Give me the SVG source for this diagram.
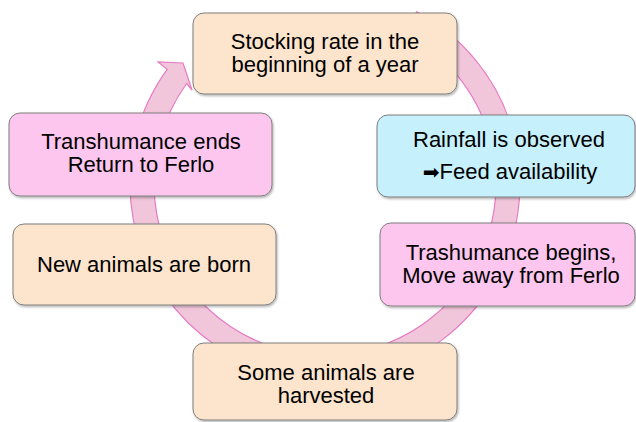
<svg xmlns="http://www.w3.org/2000/svg" width="636" height="422" viewBox="0 0 636 422">
<defs>
<filter id="sh" x="-5%" y="-5%" width="110%" height="115%">
<feDropShadow dx="1" dy="1.5" stdDeviation="1" flood-color="#000" flood-opacity="0.3"/>
</filter>
</defs>
<style>
.box{stroke:#7f7f7f;stroke-width:1;filter:url(#sh)}
.peach{fill:#fde4cc}
.pink{fill:#fdc6ee}
.cyan{fill:#c6f0fc}
text{font-family:"Liberation Sans",Arial,sans-serif;font-size:22px;fill:#000;text-anchor:middle}
.ring{fill:#f1c6db;stroke:#e67ac4;stroke-width:1.2}
</style>
<g id="connectors">
<path class="ring" d="M416.6,11.8 A195,195 0 1 1 167.2,69.4 L158,62 L183,63 L192,90 L186.7,83.5 A171,171 0 1 0 405.3,33 Z"/>
</g>
<g id="node-stocking">
<rect class="box peach" x="193" y="13" width="264" height="81" rx="11"/>
<text x="325" y="49">Stocking rate in the</text>
<text x="325" y="72">beginning of a year</text>
</g>
<g id="node-rainfall">
<rect class="box cyan" x="377" y="115" width="258" height="82" rx="11"/>
<text x="509" y="147">Rainfall is observed</text>
<text x="510" y="179"><tspan font-family="DejaVu Sans" font-size="20">➡</tspan>Feed availability</text>
</g>
<g id="node-trashumance">
<rect class="box pink" x="380" y="223" width="255" height="83" rx="11"/>
<text x="511" y="260">Trashumance begins,</text>
<text x="511" y="283">Move away from Ferlo</text>
</g>
<g id="node-harvested">
<rect class="box peach" x="193" y="343" width="264" height="77" rx="11"/>
<text x="326" y="380">Some animals are</text>
<text x="326" y="403">harvested</text>
</g>
<g id="node-born">
<rect class="box peach" x="13" y="224" width="263" height="81" rx="11"/>
<text x="144" y="272">New animals are born</text>
</g>
<g id="node-return">
<rect class="box pink" x="9" y="113" width="263" height="83" rx="11"/>
<text x="141" y="149">Transhumance ends</text>
<text x="141" y="172">Return to Ferlo</text>
</g>
</svg>
